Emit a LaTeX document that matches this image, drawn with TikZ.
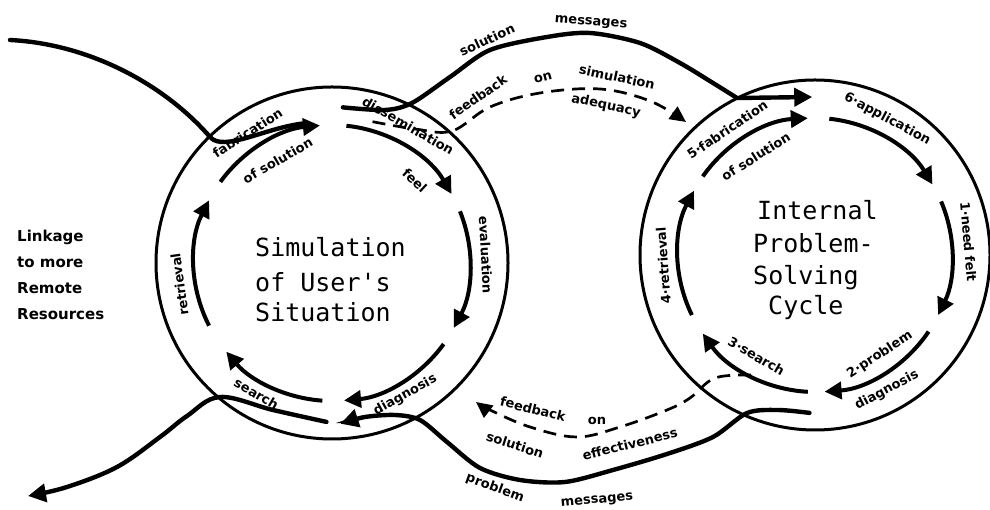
\documentclass[tikz,border=0pt]{standalone}
\usepackage{fontspec}
\usetikzlibrary{arrows.meta,calc}
\newfontfamily\labfont{DejaVu Sans}
\newfontfamily\cenfont{DejaVu Sans Mono}
\begin{document}
\begin{tikzpicture}[x=1pt,y=1pt,
  ring/.style={line width=3pt},
  cyc/.style={line width=4pt,-{Triangle[length=17pt,width=17pt]}},
  link/.style={line width=4.4pt,line cap=round},
  linkarr/.style={link,-{Triangle[length=18pt,width=18pt]}},
  fb/.style={line width=2.7pt,dash pattern=on 13pt off 8pt,-{Triangle[length=16pt,width=15pt]}},
  lab/.style={font=\labfont\bfseries\fontsize{13}{14}\selectfont,inner sep=0pt},
  cen/.style={font=\cenfont\fontsize{25}{30}\selectfont,inner sep=0pt,anchor=base west},
  side/.style={font=\labfont\bfseries\fontsize{15}{26}\selectfont,inner sep=0pt,anchor=base west}
]
\useasboundingbox (0,0) rectangle (990,510);
\coordinate (L) at (332,247);
\coordinate (R) at (815,255);
\draw[ring] (L) circle[radius=176];
\draw[ring] (R) circle[radius=175];

% left cycle arrows
\foreach \n/\a/\b in {lFab/144/95, lDis/84/30, lEva/22/-28, lDia/-36/-85, lSea/-94/-140, lRet/-153/-207}{
  \coordinate (\n) at ($(L)+(\a:138)$);
  \draw[cyc] (\n) arc[start angle=\a, end angle=\b, radius=138];
}
% right cycle arrows
\foreach \n/\a/\b in {rFab/145/93, rApp/84/31, rNeed/23/-26, rProb/-34/-86, rSea/-93/-145, rRet/-154/-208}{
  \coordinate (\n) at ($(R)+(\a:137)$);
  \draw[cyc] (\n) arc[start angle=\a, end angle=\b, radius=137];
}

% centre texts
\node[cen] (s1) at (255,253) {Simulation};
\node[cen] (s2) at (255,218) {of User's};
\node[cen] (s3) at (255,188) {Situation};
\node[cen] (i1) at (757,290) {Internal};
\node[cen] (i2) at (753,257) {Problem-};
\node[cen] (i3) at (753,225) {Solving};
\node[cen] (i4) at (768,195) {Cycle};

% side text
\node[side] (k1) at (17,268) {Linkage};
\node[side] (k2) at (17,242) {to more};
\node[side] (k3) at (17,216) {Remote};
\node[side] (k4) at (17,190) {Resources};

% left cycle labels
\node[lab,rotate=33] (tlFab) at ($(L)+(123:155)$) {fabrication};
\node[lab,rotate=30] (tlSol) at ($(L)+(118:116)$) {of solution};
\node[lab,rotate=-30] (tlDis) at ($(L)+(61:157)$) {dissemination};
\node[lab,rotate=-43] (tlFeel) at ($(L)+(45:117)$) {feel};
\node[lab,rotate=-87] (tlEva) at ($(L)+(3:154)$) {evaluation};
\node[lab,rotate=29] (tlDia) at ($(L)+(-61:151)$) {diagnosis};
\node[lab,rotate=-30] (tlSea) at ($(L)+(-120:151)$) {search};
\node[lab,rotate=98] (tlRet) at ($(L)+(-172:154)$) {retrieval};

% right cycle labels
\node[lab,rotate=34] (trFab) at ($(R)+(125:153)$) {5·fabrication};
\node[lab,rotate=32] (trSol) at ($(R)+(121:115)$) {of solution};
\node[lab,rotate=-28] (trApp) at ($(R)+(62:154)$) {6·application};
\node[lab,rotate=-85] (trNeed) at ($(R)+(5:154)$) {1·need felt};
\node[lab,rotate=33] (trProb) at ($(R)+(-57:119)$) {2·problem};
\node[lab,rotate=28] (trDia) at ($(R)+(-62:153)$) {diagnosis};
\node[lab,rotate=-30] (trSea) at ($(R)+(-120:117)$) {3·search};
\node[lab,rotate=94] (trRet) at ($(R)+(-176:152)$) {4·retrieval};

% incoming link from remote resources
\coordinate (inS) at (10,470);
\coordinate (inX) at (210,373);
\coordinate (inM) at (308,387);
\draw[link] (inS) .. controls (90,466) and (165,425) .. (inX)
  .. controls (224,357) and (268,384) .. (inM);

% outgoing link to remote resources
\coordinate (eS) at ($(L)+(-92:159)$);
\coordinate (eE) at (28,14);
\draw[linkarr] plot[smooth,tension=0.6] coordinates {(eS) (273,100) (220,113) (187,94) (160,73) (117,43) (67,23) (eE)};

% solution messages
\coordinate (sS) at ($(L)+(86:156)$);
\coordinate (sE) at ($(R)+(91:158)$);
\draw[linkarr] plot[smooth,tension=0.5] coordinates {(sS) (385,400) (412,407) (450,433) (490,460) (547,473) (590,477) (640,467) (680,447) (713,427) (737,412)} -- (sE);
\node[lab,rotate=25] (tSolM) at (487,470) {solution};
\node[lab,rotate=-4] (tMsg) at (591,487) {messages};

% problem messages
\coordinate (pS) at ($(R)+(-92:158)$);
\coordinate (pE) at ($(L)+(-87:161)$);
\draw[linkarr] plot[smooth,tension=0.5] coordinates {(pS) (778,100) (747,97) (713,73) (667,56) (613,40) (565,28) (520,30) (480,42) (447,68) (420,90) (395,95) (365,93) (pE)};
\node[lab,rotate=-20] (tProbM) at (495,22) {problem};
\node[lab,rotate=5] (tMsg2) at (597,9) {messages};

% feedback on simulation adequacy
\coordinate (fa1) at ($(L)+(74:147)$);
\coordinate (fa2) at (686,388);
\draw[fb] plot[smooth,tension=0.6] coordinates {(fa1) (415,381) (452,379) (490,403) (540,417) (600,421) (650,409) (fa2)};
\node[lab,rotate=35] (tFb1) at (478,413) {feedback};
\node[lab,rotate=15] (tFb2) at (543,432) {on};
\node[lab,rotate=-12] (tFb3) at (617,433) {simulation};
\node[lab,rotate=-12] (tFb4) at (606,404) {adequacy};

% feedback on solution effectiveness
\coordinate (fe1) at ($(R)+(-118:136)$);
\coordinate (fe2) at (476,108);
\draw[fb] plot[smooth,tension=0.6] coordinates {(fe1) (715,132) (690,112) (667,100) (620,83) (577,73) (530,83) (490,100) (fe2)};
\node[lab,rotate=-14] (tFe1) at (533,101) {feedback};
\node[lab] (tFe2) at (597,89) {on};
\node[lab,rotate=-18] (tFe3) at (515,65) {solution};
\node[lab,rotate=14] (tFe4) at (630,66) {effectiveness};
\end{tikzpicture}
\end{document}
